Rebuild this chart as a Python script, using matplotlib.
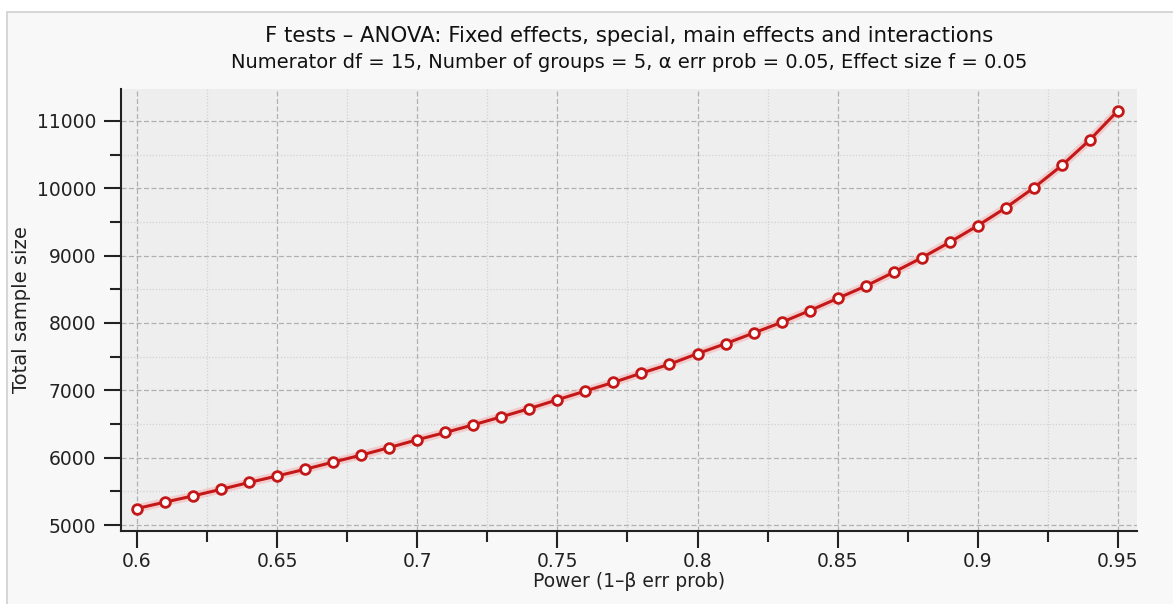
import matplotlib
matplotlib.use("Agg")
import matplotlib.pyplot as plt
from matplotlib.patches import Rectangle
from matplotlib.ticker import MultipleLocator, FuncFormatter

# power values and total sample size
power = [0.60, 0.61, 0.62, 0.63, 0.64, 0.65, 0.66, 0.67, 0.68, 0.69,
         0.70, 0.71, 0.72, 0.73, 0.74, 0.75, 0.76, 0.77, 0.78, 0.79,
         0.80, 0.81, 0.82, 0.83, 0.84, 0.85, 0.86, 0.87, 0.88, 0.89,
         0.90, 0.91, 0.92, 0.93, 0.94, 0.95]
sample_size = [5245, 5340, 5432, 5530, 5632, 5728, 5828, 5934, 6038, 6150,
               6266, 6374, 6488, 6606, 6729, 6860, 6990, 7118, 7256, 7388,
               7545, 7693, 7851, 8010, 8183, 8366, 8548, 8754, 8968, 9200,
               9446, 9712, 10008, 10340, 10721, 11154]

title_1 = "F tests \u2013 ANOVA: Fixed effects, special, main effects and interactions"
title_2 = ("Numerator df = 15, Number of groups = 5, \u03b1 err prob = 0.05, "
           "Effect size f = 0.05")
x_label = "Power (1\u2013\u03b2 err prob)"
y_label = "Total sample size"

W, H = 1173, 604
red = "#c41818"

fig = plt.figure(figsize=(W / 100, H / 100), dpi=100, facecolor="white")

# light frame around the whole chart (drawn beneath the axes)
frame = Rectangle((7 / W, -0.01), 1.0, 1 - 12 / H + 0.01,
                  transform=fig.transFigure, facecolor="#f8f8f8",
                  edgecolor="#d0d0d0", linewidth=1.2, zorder=-5)
fig.patches.append(frame)

left, right, top, bottom = 121, 1137, 89, 531
ax = fig.add_axes([left / W, 1 - bottom / H, (right - left) / W, (bottom - top) / H])
ax.set_zorder(2)
ax.set_facecolor("#eeeeee")

# soft halo under the line, then the line with open markers
ax.plot(power, sample_size, color="#ff6a6a", linewidth=6, alpha=0.25,
        solid_capstyle="round", zorder=3)
ax.plot(power, sample_size, color=red, linewidth=2.2, marker="o", markersize=7,
        markerfacecolor="white", markeredgecolor=red, markeredgewidth=2,
        zorder=4)

ax.set_xlim(0.5943, 0.9568)
ax.set_ylim(4911, 11475)

ax.xaxis.set_major_locator(MultipleLocator(0.05))
ax.xaxis.set_minor_locator(MultipleLocator(0.025))
ax.yaxis.set_major_locator(MultipleLocator(1000))
ax.yaxis.set_minor_locator(MultipleLocator(500))
ax.xaxis.set_major_formatter(FuncFormatter(lambda v, p: f"{v:g}"))
ax.yaxis.set_major_formatter(FuncFormatter(lambda v, p: f"{v:.0f}"))

ax.grid(which="major", color="#b0b0b0", linestyle=(0, (4, 2)), linewidth=0.9)
ax.grid(which="minor", color="#d2d2d2", linestyle=(0, (1, 1.5)), linewidth=0.9)
ax.set_axisbelow(True)

for s in ["top", "right"]:
    ax.spines[s].set_visible(False)
for s in ["left", "bottom"]:
    ax.spines[s].set_color("#222222")
    ax.spines[s].set_linewidth(1.5)

ax.tick_params(which="major", direction="out", length=12, width=1.5,
               color="#222222", labelsize=13.5, labelcolor="#222222")
ax.tick_params(axis="y", which="major", pad=6)
ax.tick_params(axis="x", which="major", pad=3)
ax.tick_params(which="minor", direction="out", length=8, width=1.5,
               color="#222222")

ax.set_xlabel(x_label, fontsize=13.5, color="#222222", labelpad=1)
ax.set_ylabel(y_label, fontsize=14, color="#222222", labelpad=4)

fig.text(0.5 * (left + right) / W, 1 - 36 / H, title_1, ha="center",
         va="center", fontsize=15.3, color="#111111")
fig.text(0.5 * (left + right) / W, 1 - 63 / H, title_2, ha="center",
         va="center", fontsize=14, color="#111111")

fig.savefig("out.png", dpi=100, facecolor=fig.get_facecolor())
